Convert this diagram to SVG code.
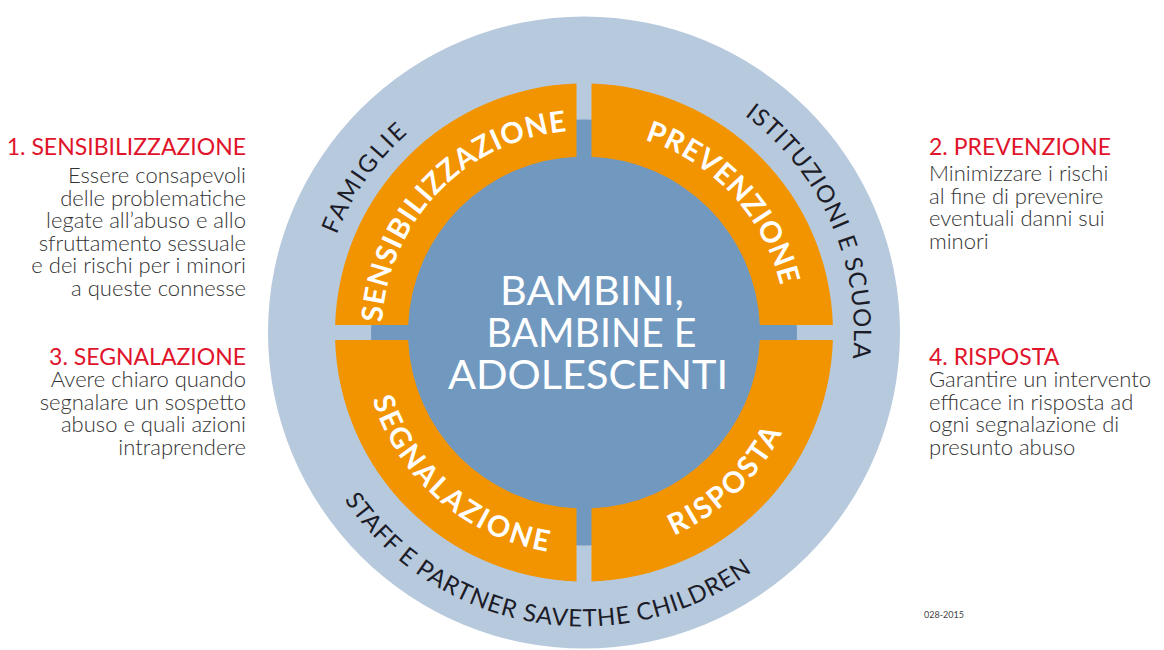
<svg xmlns="http://www.w3.org/2000/svg" xmlns:xlink="http://www.w3.org/1999/xlink" width="1164" height="650" viewBox="0 0 1164 650">
  <style>
    .quad { fill: #f29400; }
    .qlabel { font-family: Lato, "Open Sans", sans-serif; font-weight: 700; font-size: 29px; fill: #ffffff; }
    .ring { font-family: Lato, "Open Sans", sans-serif; font-weight: 400; font-size: 24px; fill: #1c1c28; }
    .center { font-family: Lato, "Open Sans", sans-serif; font-weight: 400; font-size: 40px; fill: #ffffff; text-anchor: middle; }
    .title { font-family: Lato, "Open Sans", sans-serif; font-weight: 400; font-size: 23px; fill: #e0142b; }
    .body { font-family: Lato, "Open Sans", sans-serif; font-weight: 300; font-size: 22px; fill: #333333; }
    .r { text-anchor: end; }
    .code { font-family: Lato, "Open Sans", sans-serif; font-size: 9px; fill: #444444; }
  </style>
  <defs>
    <path id="pTL" d="M 402.44 421.06 A 202 202 0 0 1 666.16 147.97"/>
    <path id="pTR" d="M 505.07 146.56 A 202 202 0 0 1 763.98 424.21"/>
    <path id="pBL" d="M 376.74 252.94 A 222 222 0 0 0 691.63 526.66"/>
    <path id="pBR" d="M 484.94 531.17 A 222 222 0 0 0 787.6 243.99"/>
    <path id="pFam" d="M 342.92 444.91 A 266 266 0 0 1 607.18 67.51"/>
    <path id="pIst" d="M 565.16 63.16 A 270 270 0 0 1 771.57 526.71"/>
    <path id="pStaff" d="M 295 332.5 A 288 288 0 0 0 855.57 431.34"/>
  </defs>

  <g id="outer-ring">
    <circle cx="584" cy="332.5" r="316" fill="#b7c9dc"/>
    <text class="ring"><textPath xlink:href="#pFam" href="#pFam" startOffset="50%" text-anchor="middle" textLength="125" lengthAdjust="spacing">FAMIGLIE</textPath></text>
    <text class="ring"><textPath xlink:href="#pIst" href="#pIst" startOffset="50%" text-anchor="middle" textLength="278" lengthAdjust="spacing">ISTITUZIONI E SCUOLA</textPath></text>
    <text class="ring"><textPath xlink:href="#pStaff" href="#pStaff" startOffset="50%" text-anchor="middle" textLength="462" lengthAdjust="spacing">STAFF E PARTNER SAVETHE CHILDREN</textPath></text>
  </g>

  <g id="center">
    <circle cx="584" cy="332.5" r="213" fill="#7199bf"/>
    <text class="center" x="592" y="305" textLength="184" lengthAdjust="spacingAndGlyphs">BAMBINI,</text>
    <text class="center" x="591.5" y="347" textLength="210" lengthAdjust="spacingAndGlyphs">BAMBINE E</text>
    <text class="center" x="588" y="389" textLength="280" lengthAdjust="spacingAndGlyphs">ADOLESCENTI</text>
  </g>

  <g id="quadrant-sensibilizzazione">
    <path class="quad" d="M 576.5 83.613 A 249 249 0 0 0 335.113 325 L 408.16 325 A 176 176 0 0 1 576.5 156.66 Z"/>
    <text class="qlabel"><textPath xlink:href="#pTL" href="#pTL" startOffset="50%" text-anchor="middle" textLength="290" lengthAdjust="spacing">SENSIBILIZZAZIONE</textPath></text>
  </g>
  <g id="quadrant-prevenzione">
    <path class="quad" d="M 591.5 83.613 A 249 249 0 0 1 832.887 325 L 759.84 325 A 176 176 0 0 0 591.5 156.66 Z"/>
    <text class="qlabel"><textPath xlink:href="#pTR" href="#pTR" startOffset="50%" text-anchor="middle" textLength="208" lengthAdjust="spacing">PREVENZIONE</textPath></text>
  </g>
  <g id="quadrant-segnalazione">
    <path class="quad" d="M 335.113 340 A 249 249 0 0 0 576.5 581.387 L 576.5 508.34 A 176 176 0 0 1 408.16 340 Z"/>
    <text class="qlabel"><textPath xlink:href="#pBL" href="#pBL" startOffset="50%" text-anchor="middle" textLength="244" lengthAdjust="spacing">SEGNALAZIONE</textPath></text>
  </g>
  <g id="quadrant-risposta">
    <path class="quad" d="M 591.5 581.387 A 249 249 0 0 0 832.887 340 L 759.84 340 A 176 176 0 0 1 591.5 508.34 Z"/>
    <text class="qlabel"><textPath xlink:href="#pBR" href="#pBR" startOffset="50%" text-anchor="middle" textLength="152" lengthAdjust="spacing">RISPOSTA</textPath></text>
  </g>

  <g id="label-sensibilizzazione">
    <text class="title r" x="246" y="154.5">1. SENSIBILIZZAZIONE</text>
    <text class="body r" x="246" y="183">Essere consapevoli</text>
    <text class="body r" x="246" y="205.5">delle problematiche</text>
    <text class="body r" x="246" y="228">legate all’abuso e allo</text>
    <text class="body r" x="246" y="250.5">sfruttamento sessuale</text>
    <text class="body r" x="246" y="273">e dei rischi per i minori</text>
    <text class="body r" x="246" y="295.5">a queste connesse</text>
  </g>
  <g id="label-segnalazione">
    <text class="title r" x="246" y="364.5">3. SEGNALAZIONE</text>
    <text class="body r" x="246" y="387">Avere chiaro quando</text>
    <text class="body r" x="246" y="409.5">segnalare un sospetto</text>
    <text class="body r" x="246" y="432">abuso e quali azioni</text>
    <text class="body r" x="246" y="454.5">intraprendere</text>
  </g>
  <g id="label-prevenzione">
    <text class="title" x="929" y="154.5">2. PREVENZIONE</text>
    <text class="body" x="929" y="181">Minimizzare i rischi</text>
    <text class="body" x="929" y="203.5">al fine di prevenire</text>
    <text class="body" x="929" y="226">eventuali danni sui</text>
    <text class="body" x="929" y="248.5">minori</text>
  </g>
  <g id="label-risposta">
    <text class="title" x="929" y="364.5">4. RISPOSTA</text>
    <text class="body" x="929" y="387">Garantire un intervento</text>
    <text class="body" x="929" y="409.5">efficace in risposta ad</text>
    <text class="body" x="929" y="432">ogni segnalazione di</text>
    <text class="body" x="929" y="454.5">presunto abuso</text>
  </g>
  <text class="code" x="924" y="618">028-2015</text>
</svg>
